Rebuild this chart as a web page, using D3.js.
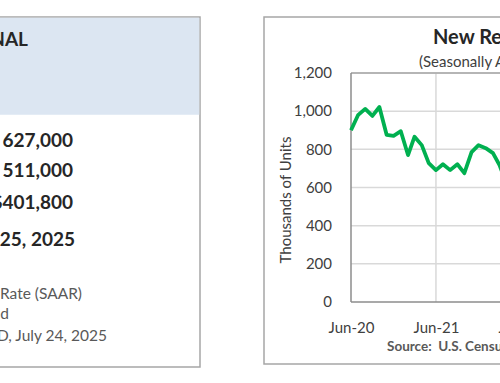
<!DOCTYPE html>
<html>
<head>
<meta charset="utf-8">
<script src="https://cdn.jsdelivr.net/npm/d3@7"></script>
<style>
  html, body { margin: 0; padding: 0; background: #fff; overflow: hidden; }
  svg { display: block; font-family: Lato, "Open Sans", sans-serif; }
</style>
</head>
<body>
<svg id="chart" width="500" height="383"></svg>
<script>
// ---- data ----
const months = ["2020-06","2020-07","2020-08","2020-09","2020-10","2020-11","2020-12",
  "2021-01","2021-02","2021-03","2021-04","2021-05","2021-06","2021-07","2021-08",
  "2021-09","2021-10","2021-11","2021-12","2022-01","2022-02","2022-03","2022-04"];
const sales = [900, 979, 1012, 975, 1022, 876, 871,
  895, 770, 866, 822, 728, 691, 722, 691,
  722, 675, 785, 822, 806, 780, 717, 620];
const yTicks = [0, 200, 400, 600, 800, 1000, 1200];
const xTickLabels = ["Jun-20","Jun-21","Jun-22","Jun-23","Jun-24","Jun-25"];

const summaryValues = ["627,000", "511,000", "$401,800", "25, 2025"];
const notes = ["Rate (SAAR)", "d", "D, July 24, 2025"];

const svg = d3.select("#chart");
const parse = d3.timeParse("%Y-%m");

// ---- left panel ----
svg.append("rect").attr("x", -10).attr("y", 17).attr("width", 210).attr("height", 350)
  .attr("fill", "#fff").attr("stroke", "#a6a6a6").attr("stroke-width", 1.5);
svg.append("rect").attr("x", -10).attr("y", 17.75).attr("width", 209.25).attr("height", 97)
  .attr("fill", "#dce6f2");
svg.append("text").attr("x", 28).attr("y", 46).attr("text-anchor", "end")
  .attr("font-weight", "bold").attr("font-size", 19).attr("fill", "#262626").text("NAL");

const valY = [147, 177, 209, 246];
svg.selectAll("text.val").data(summaryValues).join("text").attr("class", "val")
  .attr("x", (d, i) => i === 3 ? 75 : 73).attr("y", (d, i) => valY[i])
  .attr("text-anchor", "end").attr("font-weight", "bold").attr("font-size", 19)
  .attr("fill", "#262626").text(d => d);

const noteY = [299, 319, 341];
const noteX = [82, 9, 107];
svg.selectAll("text.note").data(notes).join("text").attr("class", "note")
  .attr("x", (d, i) => noteX[i]).attr("y", (d, i) => noteY[i])
  .attr("text-anchor", "end").attr("font-size", 15.5).attr("fill", "#595959").text(d => d);

// ---- right panel ----
svg.append("rect").attr("x", 264).attr("y", 17).attr("width", 260).attr("height", 347)
  .attr("fill", "#fff").attr("stroke", "#a6a6a6").attr("stroke-width", 1.5);

svg.append("text").attr("x", 433).attr("y", 44).attr("font-weight", "bold")
  .attr("font-size", 20).attr("fill", "#262626").text("New Residential Sales");
svg.append("text").attr("x", 419).attr("y", 67).attr("font-size", 15)
  .attr("fill", "#404040").text("(Seasonally Adjusted Annual Rate)");

const plotLeft = 351, plotTop = 73, plotBottom = 302;
const x = d3.scaleTime().domain([parse("2020-06"), parse("2025-06")]).range([plotLeft, plotLeft + 425]);
const y = d3.scaleLinear().domain([0, 1200]).range([plotBottom, plotTop]);

// gridlines
svg.append("g").selectAll("line").data(yTicks.filter(d => d > 0)).join("line")
  .attr("x1", plotLeft).attr("x2", 800).attr("y1", d => y(d)).attr("y2", d => y(d))
  .attr("stroke", "#d9d9d9").attr("stroke-width", 1.5);
const xTickDates = xTickLabels.map((d, i) => parse((2020 + i) + "-06"));
svg.append("g").selectAll("line").data(xTickDates.slice(1)).join("line")
  .attr("x1", d => x(d)).attr("x2", d => x(d)).attr("y1", plotTop).attr("y2", plotBottom)
  .attr("stroke", "#d9d9d9").attr("stroke-width", 1.5);

// plot frame
svg.append("line").attr("x1", plotLeft).attr("x2", 800).attr("y1", plotTop).attr("y2", plotTop)
  .attr("stroke", "#a6a6a6").attr("stroke-width", 1.5);
svg.append("line").attr("x1", plotLeft).attr("x2", plotLeft).attr("y1", plotTop).attr("y2", plotBottom)
  .attr("stroke", "#8c8c8c").attr("stroke-width", 1.5);
svg.append("line").attr("x1", plotLeft).attr("x2", 800).attr("y1", plotBottom).attr("y2", plotBottom)
  .attr("stroke", "#8c8c8c").attr("stroke-width", 1.5);

// y axis labels
const yAxis = d3.axisLeft(y).tickValues(yTicks).tickSize(0).tickPadding(19)
  .tickFormat(d3.format(","));
const gy = svg.append("g").attr("transform", `translate(${plotLeft},0)`).call(yAxis);
gy.select(".domain").remove();
gy.selectAll("text").attr("font-family", "Lato, sans-serif").attr("font-size", 15)
  .attr("fill", "#404040");

// x axis labels
const xAxis = d3.axisBottom(x).tickValues(xTickDates).tickSize(0).tickPadding(20)
  .tickFormat((d, i) => xTickLabels[i]);
const gx = svg.append("g").attr("transform", `translate(0,${plotBottom})`).call(xAxis);
gx.select(".domain").remove();
gx.selectAll("text").attr("font-family", "Lato, sans-serif").attr("font-size", 15)
  .attr("fill", "#404040");

// y title
svg.append("text").attr("transform", "translate(291,200) rotate(-90)")
  .attr("text-anchor", "middle").attr("font-size", 15).attr("fill", "#404040")
  .text("Thousands of Units");

// source
svg.append("text").attr("x", 387).attr("y", 351).attr("font-weight", "bold")
  .attr("font-size", 13.5).attr("fill", "#595959").attr("xml:space", "preserve")
  .text("Source:  U.S. Census Bureau");

// line
const data = months.map((m, i) => ({ date: parse(m), value: sales[i] }));
svg.append("path").datum(data)
  .attr("fill", "none").attr("stroke", "#00b050").attr("stroke-width", 3.8)
  .attr("stroke-linejoin", "round")
  .attr("d", d3.line().x(d => x(d.date)).y(d => y(d.value)));
</script>
</body>
</html>
